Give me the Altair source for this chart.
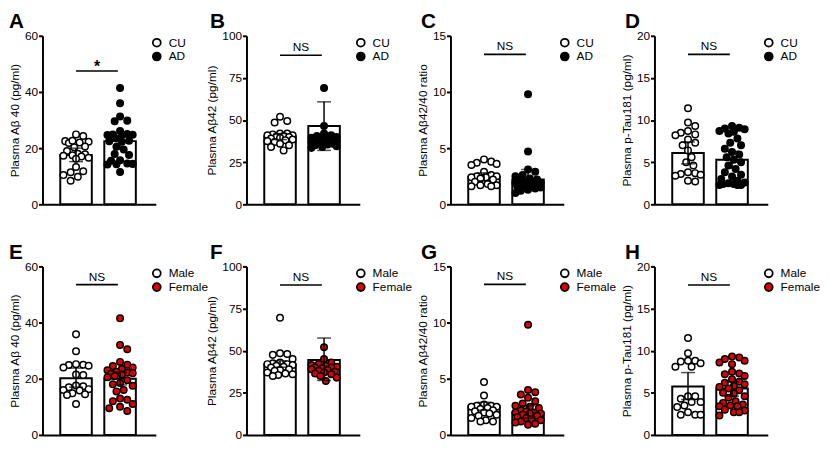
import altair as alt
import pandas as pd

FONT = "Liberation Sans"

# ---------------- data ----------------
row1_groups = ["CU", "AD"]
row2_groups = ["Male", "Female"]
row1_fills = ["white", "black"]
row2_fills = ["white", "#e00000"]

ylabels = ["Plasma Aβ 40 (pg/ml)", "Plasma Aβ42 (pg/ml)", "Plasma Aβ42/40 ratio", "Plasma p-Tau181 (pg/ml)"]
ymaxes = [60, 100, 15, 20]
yticks = [[0, 20, 40, 60], [0, 25, 50, 75, 100], [0, 5, 10, 15], [0, 5, 10, 15, 20]]
letters = ["A", "B", "C", "D", "E", "F", "G", "H"]

a_cu = [24.3, 24.9, 22.5, 22.3, 22.0, 21.8, 22.6, 20.6, 20.3, 19.0, 18.0, 17.8, 17.5, 17.3, 17.0, 16.6, 16.2, 13.3, 11.8, 11.4, 10.4, 9.8, 8.4]
a_ad = [41.4, 36.0, 31.3, 29.8, 29.6, 26.1, 25.0, 24.9, 24.8, 24.7, 24.6, 23.4, 22.6, 22.5, 22.3, 20.5, 19.5, 17.9, 17.6, 15.7, 15.5, 14.5, 14.4, 14.3, 14.2, 11.5]
b_cu = [52.0, 49.5, 48.5, 42.0, 42.0, 41.5, 41.0, 41.0, 40.5, 40.0, 40.0, 39.5, 39.0, 38.5, 38.0, 37.5, 37.0, 36.0, 35.0, 34.0, 32.0]
b_ad = [69.0, 46.5, 42.0, 41.0, 40.5, 40.0, 39.5, 39.0, 39.0, 38.5, 38.0, 38.0, 37.5, 37.0, 37.0, 36.5, 36.0, 35.5, 35.0, 34.5, 34.0, 33.5]
c_cu = [4.0, 3.8, 3.7, 3.6, 3.5, 2.9, 2.6, 2.5, 2.5, 2.4, 2.4, 2.3, 2.2, 2.0, 1.8, 1.7, 1.7, 1.6, 1.6]
c_ad = [9.8, 4.7, 3.1, 2.9, 2.6, 2.5, 2.3, 2.2, 2.1, 2.0, 2.0, 1.9, 1.9, 1.8, 1.8, 1.8, 1.7, 1.7, 1.6, 1.5, 1.4, 1.3, 1.2, 1.0]
d_cu = [11.4, 9.7, 9.3, 8.7, 8.5, 8.3, 8.2, 7.7, 7.3, 7.0, 6.4, 5.6, 5.0, 4.6, 3.8, 3.7, 3.6, 3.5, 3.4, 2.8, 2.7]
d_ad = [9.3, 9.1, 9.0, 8.9, 8.7, 8.6, 8.4, 7.8, 7.3, 7.0, 6.6, 6.2, 5.9, 5.6, 5.3, 5.0, 4.6, 4.2, 3.8, 3.5, 3.3, 3.0, 2.8, 2.6, 2.5, 2.4, 2.4, 2.3, 2.3, 2.3]
e_male = [35.8, 29.8, 25.2, 25.0, 24.9, 24.6, 24.0, 21.5, 21.3, 17.6, 17.3, 17.0, 16.3, 16.0, 15.8, 14.8, 14.5, 14.2, 11.0]
e_female = [41.5, 32.0, 30.5, 26.0, 25.0, 24.5, 24.0, 23.5, 23.0, 22.5, 22.2, 22.0, 21.8, 21.5, 21.0, 20.5, 19.5, 18.5, 18.0, 17.5, 16.0, 15.5, 13.0, 12.5, 12.0, 11.0, 10.0, 9.5, 8.5]
f_male = [69.5, 48.5, 48.0, 47.5, 45.0, 43.0, 42.5, 42.0, 42.0, 41.5, 41.0, 40.5, 40.0, 39.0, 38.5, 38.0, 37.0, 36.5, 36.0, 35.5, 35.0]
f_female = [52.0, 45.0, 43.0, 42.0, 41.5, 41.0, 40.5, 40.0, 40.0, 39.5, 39.0, 38.5, 38.0, 37.5, 37.0, 36.5, 36.0, 35.0, 34.0, 32.0]
g_male = [4.7, 3.5, 2.7, 2.6, 2.6, 2.5, 2.5, 2.4, 2.3, 2.2, 2.1, 2.0, 1.9, 1.8, 1.7, 1.5, 1.3, 1.2, 1.2]
g_female = [9.8, 4.0, 3.8, 3.6, 3.3, 3.0, 2.8, 2.6, 2.5, 2.4, 2.2, 2.1, 2.0, 2.0, 1.9, 1.9, 1.8, 1.7, 1.6, 1.5, 1.4, 1.3, 1.2, 1.1, 1.0, 0.9]
h_male = [11.5, 9.7, 8.8, 8.8, 8.7, 8.5, 8.1, 8.1, 4.6, 4.6, 4.3, 3.9, 3.9, 3.5, 3.3, 2.7, 2.4, 2.4, 2.4]
h_female = [9.3, 9.2, 9.0, 8.8, 8.6, 8.4, 7.5, 7.3, 7.2, 7.0, 6.6, 6.3, 6.2, 6.0, 5.8, 5.7, 5.5, 5.3, 5.0, 4.9, 4.6, 4.4, 4.0, 3.8, 3.6, 3.5, 3.4, 3.4, 3.0, 2.9, 2.7, 2.7, 2.3]

# bar heights and error bar ends (group 1, group 2) per panel A..H
bar_means = [[17.6, 22.5], [40.2, 46.5], [2.45, 2.2], [6.1, 5.3], [20.2, 20.0], [42.0, 44.5], [2.55, 2.0], [5.75, 5.5]]
err_low = [[15.2, 19.7], [38.4, 32.0], [2.1, 1.4], [4.8, 4.3], [17.0, 17.8], [40.2, 32.3], [2.2, 1.5], [4.2, 4.6]]
err_high = [[20.0, 25.4], [42.0, 60.8], [2.8, 3.1], [7.4, 6.3], [23.8, 22.4], [44.0, 57.5], [2.9, 2.6], [7.4, 6.3]]
sig_levels = [47.5, 88.5, 13.35, 17.8, 53.5, 89.0, 13.4, 17.8]
sig_labels = ["*", "NS", "NS", "NS", "NS", "NS", "NS", "NS"]
sig_span = [1.0, 1.95]

# ---------------- layout / style constants ----------------
PLOT_W = 115
PLOT_H = 171
X_DOMAIN = [0.35, 2.7]
PT_D = 8.2
LETTER_DX = [-34, -37, -30, -30, -34, -37, -30, -30]


def swarm(vals, ymax):
    """Deterministic beeswarm offsets (in x-data units) for one group."""
    upx = (X_DOMAIN[1] - X_DOMAIN[0]) / PLOT_W
    cands = [0.0]
    for k in range(1, 9):
        cands += [k * 2.0, -k * 2.0]
    cands = [c for c in cands if abs(c) <= 15]
    placed = []
    res = [0.0] * len(vals)
    order = sorted(range(len(vals)), key=lambda i: -vals[i])
    for i in order:
        y = vals[i] / ymax * PLOT_H
        best = None
        for c in cands:
            if all((c - px) ** 2 + (y - py) ** 2 >= (PT_D * 0.92) ** 2 for px, py in placed):
                best = c
                break
        if best is None:
            best = max(cands, key=lambda c: min((c - px) ** 2 + (y - py) ** 2 for px, py in placed))
        placed.append((best, y))
        res[i] = best * upx
    return res


def panel(idx, g1, g2, groups, fills):
    col = idx % 4
    ymax = ymaxes[col]
    rows = []
    for gi, (name, vals) in enumerate(zip(groups, [g1, g2])):
        offs = swarm(vals, ymax)
        for v, o in zip(vals, offs):
            rows.append({"x": gi + 1 + o, "y": v, "group": name})
    pts_df = pd.DataFrame(rows)
    bar_df = pd.DataFrame({"x": [1, 2], "y": bar_means[idx], "group": groups,
                           "lo": err_low[idx], "hi": err_high[idx]})
    cap_df = pd.DataFrame({"x": [1, 2, 1, 2], "y": err_low[idx] + err_high[idx]})
    sig_df = pd.DataFrame({"x1": [sig_span[0]], "x2": [sig_span[1]],
                           "xm": [(sig_span[0] + sig_span[1]) / 2],
                           "y": [sig_levels[idx]], "label": [sig_labels[idx]]})

    xsc = alt.Scale(domain=X_DOMAIN, nice=False, zero=False)
    ysc = alt.Scale(domain=[0, ymax], nice=False)
    xax = alt.Axis(labels=False, ticks=False, title=None, grid=False,
                   domainColor="black", domainWidth=2)
    yax = alt.Axis(values=yticks[col], title=ylabels[col], grid=False,
                   domainColor="black", domainWidth=2, tickColor="black", tickWidth=2,
                   tickSize=4, labelPadding=1, titlePadding=3,
                   labelFont=FONT, labelFontSize=12, labelColor="black",
                   titleFont=FONT, titleFontSize=12, titleFontWeight="normal", titleColor="black")

    bars = alt.Chart(bar_df).mark_bar(size=32, fill="white", stroke="black", strokeWidth=2).encode(
        x=alt.X("x:Q", scale=xsc, axis=xax),
        y=alt.Y("y:Q", scale=ysc, axis=yax),
    )
    pts = alt.Chart(pts_df).mark_circle(size=44, stroke="black", strokeWidth=1.5, opacity=1).encode(
        x="x:Q",
        y="y:Q",
        fill=alt.Fill("group:N", scale=alt.Scale(domain=groups, range=fills),
                      legend=alt.Legend(title=None, orient="none", legendX=PLOT_W - 5, legendY=1,
                                        symbolType="circle", symbolSize=64, symbolStrokeColor="black",
                                        symbolStrokeWidth=1.8, symbolOpacity=1,
                                        labelFont=FONT, labelFontSize=12, labelColor="black",
                                        labelOffset=6, rowPadding=-3, padding=0)),
    )
    err = alt.Chart(bar_df).mark_rule(color="black", strokeWidth=1.5).encode(
        x="x:Q", y="lo:Q", y2="hi:Q")
    caps = alt.Chart(cap_df).mark_tick(orient="horizontal", size=14, thickness=1.5, color="black").encode(
        x="x:Q", y="y:Q")
    sig = alt.Chart(sig_df).mark_rule(color="black", strokeWidth=1.6).encode(
        x="x1:Q", x2="x2:Q", y="y:Q")
    star = sig_labels[idx] == "*"
    sig_txt = alt.Chart(sig_df).mark_text(
        font=FONT, fontSize=16 if star else 12, fontWeight="bold" if star else "normal",
        baseline="alphabetic", dy=1 if star else -4, color="black").encode(
        x="xm:Q", y="y:Q", text="label:N")

    return alt.layer(bars, pts, err, caps, sig, sig_txt).properties(
        width=PLOT_W, height=PLOT_H,
        title=alt.TitleParams(text=letters[idx], anchor="start", frame="group", dx=LETTER_DX[idx],
                              font=FONT, fontSize=21, fontWeight="bold", color="black", offset=-2),
    )


row1_data = [(a_cu, a_ad), (b_cu, b_ad), (c_cu, c_ad), (d_cu, d_ad)]
row2_data = [(e_male, e_female), (f_male, f_female), (g_male, g_female), (h_male, h_female)]

charts = []
for i, (g1, g2) in enumerate(row1_data):
    charts.append(panel(i, g1, g2, row1_groups, row1_fills))
for i, (g1, g2) in enumerate(row2_data):
    charts.append(panel(i + 4, g1, g2, row2_groups, row2_fills))

chart = alt.concat(*charts, columns=4, bounds="flush",
                   spacing={"row": 63, "column": 92}).resolve_scale(
    x="independent", y="independent", fill="independent").resolve_legend(
    fill="independent").properties(
    padding={"left": 0, "top": 0, "right": 0, "bottom": 0},
    background="white",
).configure_view(strokeWidth=0)

chart.save("out.html", embed_options={"renderer": "svg", "actions": False})
